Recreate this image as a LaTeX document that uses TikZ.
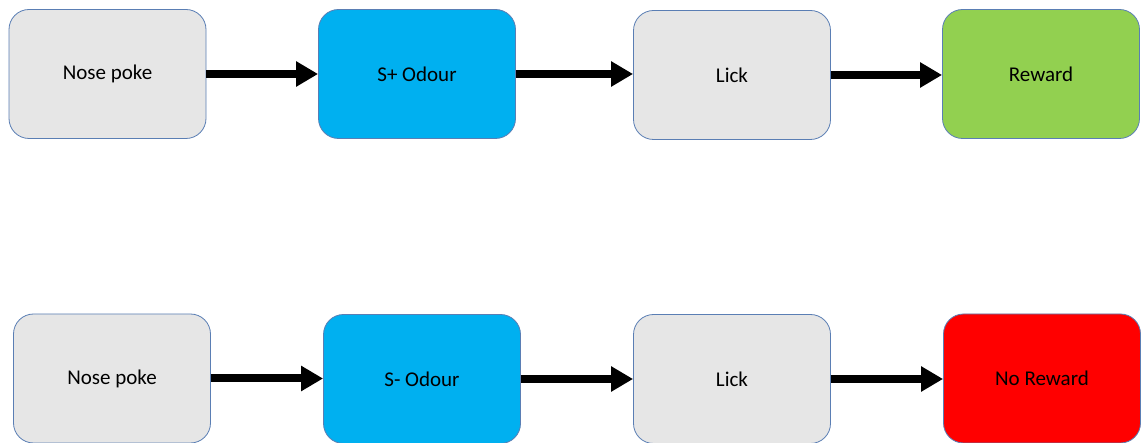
\documentclass[tikz,border=0pt]{standalone}
\usepackage{fontspec}
\setmainfont{Carlito}
\usetikzlibrary{arrows.meta}
\definecolor{boxgray}{HTML}{E6E6E6}
\definecolor{boxblue}{HTML}{00B0F0}
\definecolor{boxgreen}{HTML}{92D050}
\definecolor{boxred}{HTML}{FF0000}
\definecolor{boxline}{HTML}{5A7EB4}
\tikzset{
  stepbox/.style={draw=boxline, line width=0.8pt, rounded corners=20pt,
    minimum width=197pt, minimum height=129pt, inner sep=0pt,
    font=\fontsize{21}{25}\selectfont, text=black},
  flow/.style={line width=8pt, -{Triangle[length=22pt,width=24pt]}, black}
}
\begin{document}
\begin{tikzpicture}[x=1pt,y=-1pt]
\useasboundingbox (0,0) rectangle (1141,443);
% top row
\node[stepbox, fill=boxgray]  (np1) at (107.5,74) {Nose poke};
\node[stepbox, fill=boxblue]  (od1) at (417,74) {S+ Odour};
\node[stepbox, fill=boxgray]  (lk1) at (732,75) {Lick};
\node[stepbox, fill=boxgreen] (rw1) at (1041,74) {Reward};
% bottom row
\node[stepbox, fill=boxgray]  (np2) at (112,378.5) {Nose poke};
\node[stepbox, fill=boxblue]  (od2) at (422,379) {S- Odour};
\node[stepbox, fill=boxgray]  (lk2) at (732,379) {Lick};
\node[stepbox, fill=boxred]   (rw2) at (1042,378.5) {No Reward};
% arrows
\draw[flow] (np1.east) -- (od1.west);
\draw[flow] (od1.east) -- (lk1.west |- od1.east);
\draw[flow] (lk1.east) -- (rw1.west |- lk1.east);
\draw[flow] (np2.east) -- (od2.west |- np2.east);
\draw[flow] (od2.east) -- (lk2.west);
\draw[flow] (lk2.east) -- (rw2.west |- lk2.east);
\end{tikzpicture}
\end{document}
